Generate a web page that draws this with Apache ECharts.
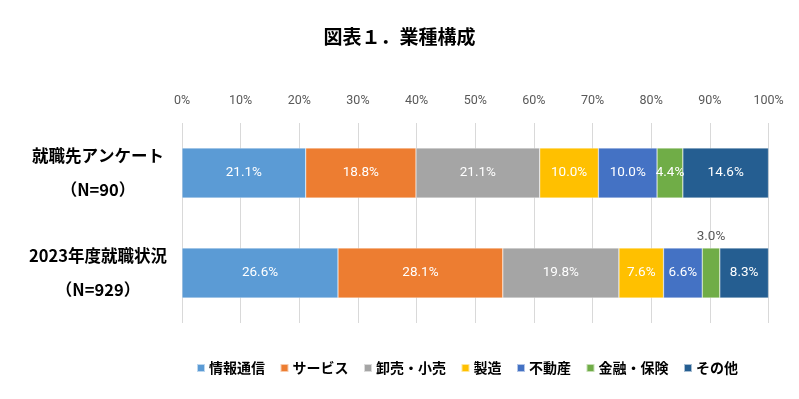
<!DOCTYPE html>
<html><head><meta charset="utf-8">
<script src="https://cdn.jsdelivr.net/npm/echarts@6/dist/echarts.min.js"></script>
<style>html,body{margin:0;padding:0;background:#fff}#c{width:799px;height:399px}</style>
</head><body><div id="c"></div>
<script>
const categories = ['就職先アンケート\n（N=90）', '2023年度就職状況\n（N=929）'];
const seriesNames = ['情報通信', 'サービス', '卸売・小売', '製造', '不動産', '金融・保険', 'その他'];
const colors = ['#5B9BD5', '#ED7D31', '#A5A5A5', '#FFC000', '#4472C4', '#70AD47', '#255E91'];
const 情報通信 = [21.1, 26.6];
const サービス = [18.8, 28.1];
const 卸売小売 = [21.1, 19.8];
const 製造 = [10.0, 7.6];
const 不動産 = [10.0, 6.6];
const 金融保険 = [4.4, 3.0];
const その他 = [14.6, 8.3];
const seriesValues = [情報通信, サービス, 卸売小売, 製造, 不動産, 金融保険, その他];
const tickLabels = ['0%','10%','20%','30%','40%','50%','60%','70%','80%','90%','100%'];

const labelFont = "Roboto,sans-serif";
const jpFont = "'Noto Sans CJK JP',sans-serif";

const chart = echarts.init(document.getElementById('c'), null, {renderer:'canvas'});
const series = seriesNames.map((name, i) => ({
  name, type: 'bar', stack: 'total', barWidth: '50%',
  itemStyle: {color: colors[i], borderColor: 'rgba(255,255,255,0.6)', borderWidth: 0.5},
  label: {show: true, position: 'inside', color: '#fff', fontSize: 13.5, fontFamily: labelFont,
    formatter: p => p.value.toFixed(1) + '%'},
  data: seriesValues[i].map((v, j) => {
    if (name === '金融・保険' && j === 1) {
      return {value: v, label: {position: 'top', color: '#595959', distance: 4}};
    }
    return v;
  })
}));

chart.setOption({
  animation: false,
  backgroundColor: '#fff',
  color: colors,
  title: {text: '図表１．業種構成', left: 'center', top: 22,
    textStyle: {fontFamily: jpFont, fontSize: 19, fontWeight: 'bold', color: '#000'}},
  legend: {bottom: 19, left: 191, itemWidth: 8, itemHeight: 8, itemGap: 14.5,
    icon: 'rect',
    textStyle: {fontFamily: jpFont, fontSize: 14, fontWeight: 'bold', color: '#000', padding: [0,0,0,-1]},
    data: seriesNames},
  grid: {left: 182, right: 30.5, top: 123, height: 200, containLabel: false},
  xAxis: {type: 'value', position: 'top', min: 0, max: 100, interval: 10,
    axisLine: {show: false}, axisTick: {show: false},
    splitLine: {lineStyle: {color: '#D9D9D9', width: 1}},
    axisLabel: {color: '#595959', fontSize: 12.5, fontFamily: labelFont, margin: 16,
      formatter: v => tickLabels[Math.round(v / 10)]}},
  yAxis: {type: 'category', inverse: true, data: categories,
    axisLine: {show: false}, axisTick: {show: false},
    axisLabel: {color: '#000', fontSize: 16.5, fontWeight: 'bold', fontFamily: jpFont,
      lineHeight: 34, align: 'center', margin: 84}},
  series
});
</script></body></html>
